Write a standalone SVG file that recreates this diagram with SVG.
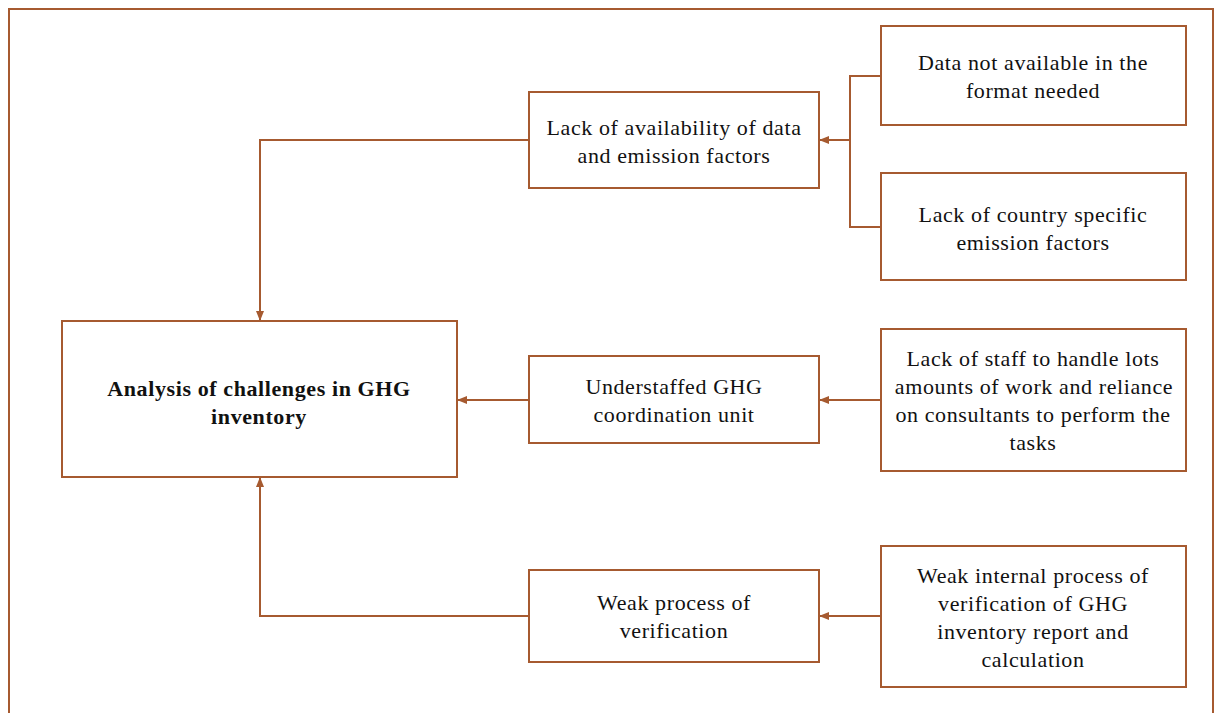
<svg xmlns="http://www.w3.org/2000/svg" width="1215" height="713" viewBox="0 0 1215 713">
  <style>
    .box { fill: #ffffff; stroke: #a65a30; stroke-width: 2; }
    .frame { fill: none; stroke: #a65a30; stroke-width: 2; }
    .wire { fill: none; stroke: #a65a30; stroke-width: 2; }
    .lbl { font-family: "Liberation Serif", "Times New Roman", serif; font-size: 22px; letter-spacing: 0.6px; fill: #111111; text-anchor: middle; }
    .bold { font-weight: bold; }
  </style>
  <defs>
    <marker id="arrow" markerWidth="10" markerHeight="8" refX="9" refY="4" orient="auto" markerUnits="userSpaceOnUse">
      <path d="M0,0 L10,4 L0,8 Z" fill="#a65a30"/>
    </marker>
  </defs>
  <rect x="0" y="0" width="1215" height="713" fill="#ffffff"/>
  <!-- outer frame -->
  <path class="frame" d="M9,720 L9,9 L1213,9 L1213,720"/>

  <!-- connectors -->
  <g id="connectors">
    <path class="wire" d="M881,76 L850,76 L850,227 L881,227"/>
    <path class="wire" d="M850,140 L820,140" marker-end="url(#arrow)"/>
    <path class="wire" d="M529,140 L260,140 L260,320" marker-end="url(#arrow)"/>
    <path class="wire" d="M881,400 L820,400" marker-end="url(#arrow)"/>
    <path class="wire" d="M529,400 L458,400" marker-end="url(#arrow)"/>
    <path class="wire" d="M881,616 L820,616" marker-end="url(#arrow)"/>
    <path class="wire" d="M529,616 L260,616 L260,478" marker-end="url(#arrow)"/>
  </g>

  <g id="node-main">
    <rect class="box" x="62" y="321" width="395" height="156"/>
    <text class="lbl bold" x="259" y="396">Analysis of challenges in GHG</text>
    <text class="lbl bold" x="259" y="424">inventory</text>
  </g>

  <g id="node-data">
    <rect class="box" x="529" y="92" width="290" height="96"/>
    <text class="lbl" x="674" y="135">Lack of availability of data</text>
    <text class="lbl" x="674" y="163">and emission factors</text>
  </g>

  <g id="node-format">
    <rect class="box" x="881" y="26" width="305" height="99"/>
    <text class="lbl" x="1033" y="70">Data not available in the</text>
    <text class="lbl" x="1033" y="98">format needed</text>
  </g>

  <g id="node-factors">
    <rect class="box" x="881" y="173" width="305" height="107"/>
    <text class="lbl" x="1033" y="222">Lack of country specific</text>
    <text class="lbl" x="1033" y="250">emission factors</text>
  </g>

  <g id="node-staff">
    <rect class="box" x="529" y="356" width="290" height="87"/>
    <text class="lbl" x="674" y="394">Understaffed GHG</text>
    <text class="lbl" x="674" y="422">coordination unit</text>
  </g>

  <g id="node-workload">
    <rect class="box" x="881" y="329" width="305" height="142"/>
    <text class="lbl" x="1033" y="366">Lack of staff to handle lots</text>
    <text class="lbl" x="1034" y="394">amounts of work and reliance</text>
    <text class="lbl" x="1033" y="422">on consultants to perform the</text>
    <text class="lbl" x="1033" y="450">tasks</text>
  </g>

  <g id="node-verification">
    <rect class="box" x="529" y="570" width="290" height="92"/>
    <text class="lbl" x="674" y="610">Weak process of</text>
    <text class="lbl" x="674" y="638">verification</text>
  </g>

  <g id="node-internal">
    <rect class="box" x="881" y="546" width="305" height="141"/>
    <text class="lbl" x="1033" y="583">Weak internal process of</text>
    <text class="lbl" x="1033" y="611">verification of GHG</text>
    <text class="lbl" x="1033" y="639">inventory report and</text>
    <text class="lbl" x="1033" y="667">calculation</text>
  </g>
</svg>
